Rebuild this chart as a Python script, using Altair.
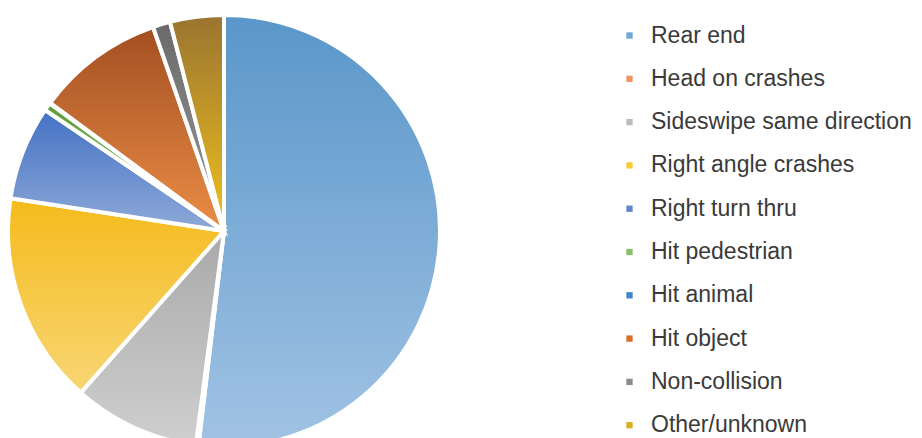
import altair as alt
import pandas as pd
import math

categories = ["Rear end", "Head on crashes", "Sideswipe same direction", "Right angle crashes",
              "Right turn thru", "Hit pedestrian", "Hit animal", "Hit object", "Non-collision",
              "Other/unknown"]
values = [51.6, 0.2, 9.4, 15.8, 7.0, 0.6, 0.05, 9.5, 1.3, 4.0]
legend_colors = ["#6fa6d8", "#ee9560", "#bdbdbd", "#f9c93a", "#6187c9", "#8bbd6a",
                 "#3e86c6", "#d5702e", "#8c8c8c", "#dcae22"]
grad_top = ["#5a96ca", "#e0702a", "#a9a9a9", "#f5bb1c", "#4472c4", "#5e9e3a",
            "#2f6fae", "#a44f22", "#6a6a6a", "#9a7430"]
grad_bottom = ["#a1c3e4", "#f3a475", "#cfcfcf", "#f8d674", "#8ea9d8", "#94c47a",
               "#6aa2d6", "#ea8d46", "#9a9a9a", "#f0c21e"]

df = pd.DataFrame({"category": categories, "value": values, "idx": list(range(len(categories)))})

base = (
    alt.Chart(df)
    .transform_joinaggregate(total="sum(value)")
    .transform_window(cum="sum(value)", sort=[alt.SortField("idx")], frame=[None, 0])
    .transform_calculate(t0="(datum.cum - datum.value) / datum.total", t1="datum.cum / datum.total")
)

theta = alt.Theta("t0:Q", scale=alt.Scale(domain=[0, 1], range=[0, 2 * math.pi]))
theta2 = alt.Theta2("t1:Q")

legend_layer = base.mark_arc(outerRadius=216, stroke="white", strokeWidth=4).encode(
    theta=theta,
    theta2=theta2,
    x=alt.value(224),
    y=alt.value(231),
    color=alt.Color(
        "category:N",
        scale=alt.Scale(domain=categories, range=legend_colors),
        legend=alt.Legend(
            title=None,
            orient="none",
            legendX=618,
            legendY=24,
            symbolType="square",
            symbolSize=40,
            symbolStrokeWidth=0,
            labelFont="Liberation Sans",
            labelFontSize=23,
            labelColor="#3a3a3a",
            labelOffset=10,
            rowPadding=19.3,
            labelLimit=400,
        ),
    ),
)

layers = [legend_layer]
for c, top, bot in zip(categories, grad_top, grad_bottom):
    grad = alt.LinearGradient(
        gradient="linear",
        stops=[alt.GradientStop(color=top, offset=0), alt.GradientStop(color=bot, offset=1)],
        x1=0, x2=0, y1=0, y2=1,
    )
    layers.append(
        base.transform_filter(alt.datum.category == c)
        .mark_arc(outerRadius=216, stroke="white", strokeWidth=4, color=grad)
        .encode(theta=theta, theta2=theta2, x=alt.value(224), y=alt.value(231))
    )

chart = (
    alt.layer(*layers)
    .properties(width=922, height=438, padding=0, autosize=alt.AutoSizeParams(type="none"))
    .configure_view(stroke=None)
)

chart.save("out.html", embed_options={"renderer": "svg", "actions": False})
